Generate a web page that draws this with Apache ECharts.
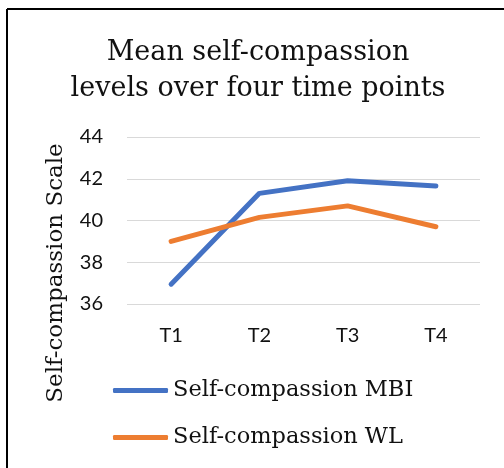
<!DOCTYPE html>
<html>
<head>
<meta charset="utf-8">
<script src="https://cdn.jsdelivr.net/npm/echarts@6/dist/echarts.min.js"></script>
<style>html,body{margin:0;padding:0;background:#fff}#c{width:504px;height:468px}</style>
</head>
<body>
<div id="c"></div>
<script>
var titleText = 'Mean self-compassion\nlevels over four time points';
var yAxisTitle = 'Self-compassion Scale';
var categories = ['T1', 'T2', 'T3', 'T4'];
var seriesNames = ['Self-compassion MBI', 'Self-compassion WL'];
var mbiValues = [36.95, 41.3, 41.9, 41.65];
var wlValues = [39.0, 40.15, 40.7, 39.7];
var yMin = 36, yMax = 44, yStep = 2;

var chart = echarts.init(document.getElementById('c'), null, {renderer: 'canvas'});
chart.setOption({
  animation: false,
  backgroundColor: '#ffffff',
  title: {
    text: titleText,
    left: 253,
    textAlign: 'center',
    top: 30,
    textStyle: {fontFamily: 'DejaVu Serif', fontSize: 27, fontWeight: 'normal', color: '#111', lineHeight: 36}
  },
  grid: {left: 127, right: 24, top: 137, bottom: 164, containLabel: false},
  xAxis: {
    type: 'category',
    data: categories,
    boundaryGap: true,
    axisLine: {show: false},
    axisTick: {show: false},
    axisLabel: {margin: 22, fontFamily: 'Lato', fontSize: 20, color: '#111'}
  },
  yAxis: {
    type: 'value',
    min: yMin, max: yMax, interval: yStep,
    axisLine: {show: false},
    axisTick: {show: false},
    axisLabel: {margin: 24, fontFamily: 'Lato', fontSize: 20, color: '#111'},
    splitLine: {lineStyle: {color: '#d9d9d9', width: 1}}
  },
  legend: {
    orient: 'vertical',
    left: 113,
    top: 379,
    padding: 0,
    itemWidth: 55,
    itemHeight: 5,
    itemGap: 24,
    icon: 'roundRect',
    textStyle: {fontFamily: 'DejaVu Serif', fontSize: 22.5, color: '#111', lineHeight: 22},
    data: seriesNames
  },
  graphic: [
    {type: 'line', shape: {x1: 7, y1: 9, x2: 504, y2: 9}, style: {stroke: '#000', lineWidth: 2}},
    {type: 'line', shape: {x1: 7, y1: 9, x2: 7, y2: 468}, style: {stroke: '#000', lineWidth: 2}},
    {type: 'text', x: 56, y: 273, rotation: Math.PI / 2,
     style: {text: yAxisTitle, fontFamily: 'DejaVu Serif', fontSize: 23, fill: '#111', align: 'center', verticalAlign: 'middle'}}
  ],
  series: [
    {name: seriesNames[0], type: 'line', data: mbiValues, showSymbol: false, symbol: 'none',
     lineStyle: {color: '#4472C4', width: 5, cap: 'round', join: 'round'}, itemStyle: {color: '#4472C4'}},
    {name: seriesNames[1], type: 'line', data: wlValues, showSymbol: false, symbol: 'none',
     lineStyle: {color: '#ED7D31', width: 5, cap: 'round', join: 'round'}, itemStyle: {color: '#ED7D31'}}
  ]
});
</script>
</body>
</html>
